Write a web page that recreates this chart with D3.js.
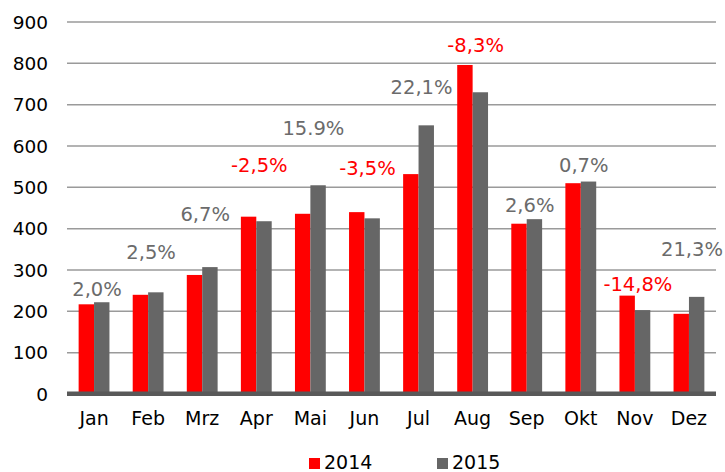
<!doctype html>
<html lang="de">
<head>
<meta charset="utf-8">
<script src="https://d3js.org/d3.v7.min.js"></script>
<style>
  body { margin: 0; background: #fff; }
  text { font-family: "DejaVu Sans", sans-serif; }
</style>
</head>
<body>
<div id="chart"></div>
<script>
// months and series
var months = ["Jan", "Feb", "Mrz", "Apr", "Mai", "Jun", "Jul", "Aug", "Sep", "Okt", "Nov", "Dez"];
var v2014 = [217, 240, 288, 429, 436, 440, 532, 796, 412, 510, 238, 194];
var v2015 = [222, 246, 307, 418, 505, 425, 650, 730, 423, 514, 203, 235];
// change labels and the value level each one sits at
var changeLabels = ["2,0%", "2,5%", "6,7%", "-2,5%", "15.9%", "-3,5%", "22,1%", "-8,3%", "2,6%", "0,7%", "-14,8%", "21,3%"];
var labelLevel = [237, 326, 418, 537, 627, 530, 726, 827, 440, 537, 249, 335];
var yTicks = [0, 100, 200, 300, 400, 500, 600, 700, 800, 900];
var seriesNames = ["2014", "2015"];

var width = 725, height = 472;
var colors = {"2014": "#ff0000", "2015": "#666666"};

var svg = d3.select("#chart").append("svg")
    .attr("width", width)
    .attr("height", height);

var x = d3.scaleBand()
    .domain(months)
    .range([67, 716])
    .paddingInner(0.43)
    .paddingOuter(0.215);

var xs = d3.scaleBand()
    .domain(seriesNames)
    .range([0, x.bandwidth()]);

var y = d3.scaleLinear()
    .domain([0, 900])
    .range([394, 22]);

// gridlines
svg.append("g")
  .selectAll("line")
  .data(yTicks.slice(1))
  .enter().append("line")
    .attr("x1", 67).attr("x2", 716)
    .attr("y1", function(d) { return y(d); })
    .attr("y2", function(d) { return y(d); })
    .attr("stroke", "#9a9a9a")
    .attr("stroke-width", 1.5);

// y tick labels
svg.append("g")
  .selectAll("text")
  .data(yTicks)
  .enter().append("text")
    .attr("x", 48)
    .attr("y", function(d) { return y(d); })
    .attr("dy", "0.36em")
    .attr("text-anchor", "end")
    .style("font-size", "18.5px")
    .attr("fill", "#000")
    .text(function(d) { return d; });

var rows = months.map(function(m, i) {
  return {month: m, values: [{key: "2014", v: v2014[i]}, {key: "2015", v: v2015[i]}]};
});

// bars
svg.append("g")
  .selectAll("g")
  .data(rows)
  .enter().append("g")
    .attr("transform", function(d) { return "translate(" + x(d.month) + ",0)"; })
  .selectAll("rect")
  .data(function(d) { return d.values; })
  .enter().append("rect")
    .attr("x", function(d) { return xs(d.key); })
    .attr("width", xs.bandwidth())
    .attr("y", function(d) { return y(d.v); })
    .attr("height", function(d) { return y(0) - y(d.v); })
    .attr("fill", function(d) { return colors[d.key]; });

// x axis line
svg.append("line")
    .attr("x1", 67).attr("x2", 716)
    .attr("y1", y(0) - 0.3).attr("y2", y(0) - 0.3)
    .attr("stroke", "#595959")
    .attr("stroke-width", 4.5);

// month labels
svg.append("g")
  .selectAll("text")
  .data(months)
  .enter().append("text")
    .attr("x", function(d) { return x(d) + x.bandwidth() / 2; })
    .attr("y", 425)
    .attr("text-anchor", "middle")
    .style("font-size", "19px")
    .attr("fill", "#000")
    .text(function(d) { return d; });

// change labels
svg.append("g")
  .selectAll("text")
  .data(changeLabels)
  .enter().append("text")
    .attr("x", function(d, i) { return x(months[i]) + x.bandwidth() / 2 + 3; })
    .attr("y", function(d, i) { return y(labelLevel[i]); })
    .attr("text-anchor", "middle")
    .style("font-size", "19.5px")
    .attr("fill", function(d) { return d.charAt(0) === "-" ? "#ff0000" : "#6b6b6b"; })
    .text(function(d) { return d; });

// legend
var legend = svg.append("g")
  .selectAll("g")
  .data(seriesNames)
  .enter().append("g")
    .attr("transform", function(d, i) { return "translate(" + (309 + i * 128) + ",458)"; });

legend.append("rect")
    .attr("width", 11).attr("height", 11)
    .attr("fill", function(d) { return colors[d]; });

legend.append("text")
    .attr("x", 15)
    .attr("y", 11)
    .style("font-size", "19px")
    .attr("fill", "#000")
    .text(function(d) { return d; });
</script>
</body>
</html>
